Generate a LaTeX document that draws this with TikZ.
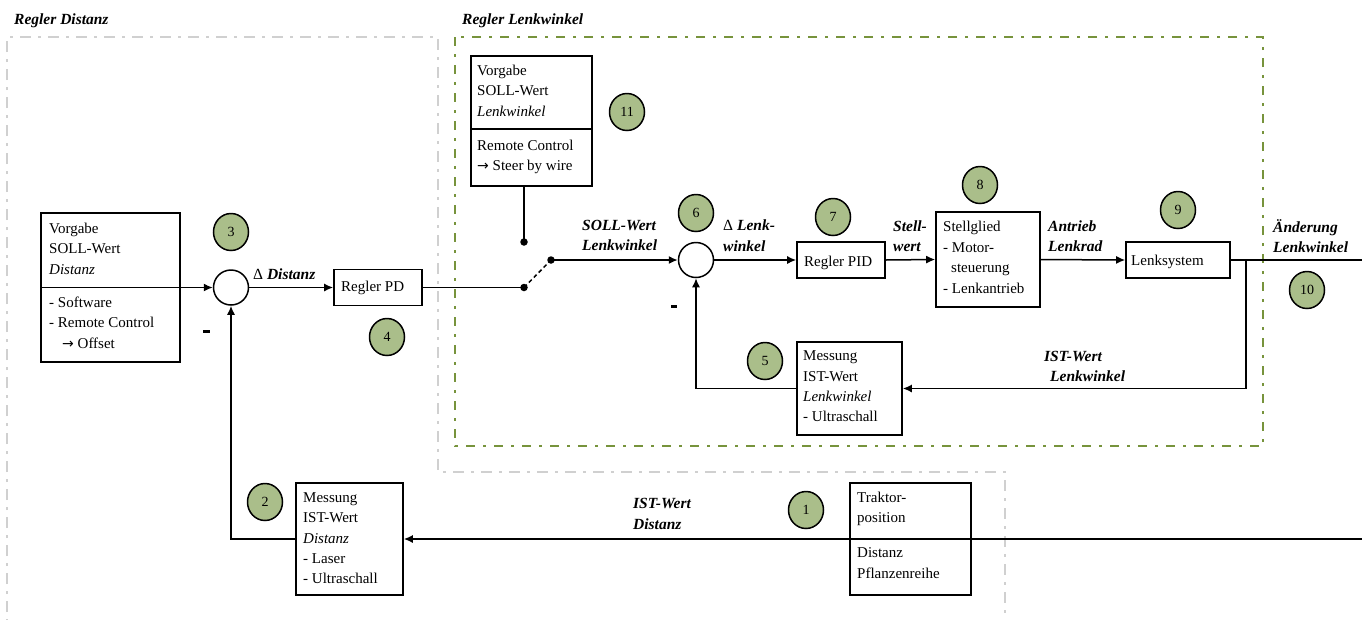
\documentclass[tikz,border=0pt]{standalone}
\usepackage{fontspec}
\setmainfont{Liberation Serif}
\newfontfamily\arrfont{DejaVu Sans}
\usetikzlibrary{arrows.meta,shapes.geometric,calc}
\definecolor{numfill}{RGB}{170,190,138}
\definecolor{grn}{RGB}{119,147,60}
\definecolor{gry}{RGB}{208,208,208}
\newcommand\fsbody{\fontsize{15}{20.4}\selectfont}
\newcommand\fslab{\fontsize{15.5}{20.4}\selectfont\bfseries\itshape}
\newcommand\fsnum{\fontsize{14}{16}\selectfont}
\newcommand\rarr{{\arrfont\fontsize{14}{16}\selectfont →}}
\begin{document}
\begin{tikzpicture}[x=1pt,y=-1pt,
 bx/.style={draw, line width=1.6pt, inner sep=0pt},
 tb/.style={anchor=north west, inner sep=0pt, align=left, font=\fsbody, yshift=14.28pt, execute at begin node=\strut},
 lb/.style={anchor=north west, inner sep=0pt, align=left, font=\fslab, yshift=14.28pt, execute at begin node=\strut},
 numnode/.style={ellipse, draw, line width=1.5pt, fill=numfill, minimum width=35pt, minimum height=37pt, inner sep=0pt, font=\fsnum},
 sumnode/.style={circle, draw, line width=1.5pt, fill=white, minimum size=35pt, inner sep=0pt},
 dotnode/.style={circle, fill=black, minimum size=7.5pt, inner sep=0pt},
 conn/.style={line width=1.5pt},
 arr/.style={conn, -{Latex[length=9pt,width=8pt]}},
 frameg/.style={draw=grn, line width=2.6pt, dash pattern=on 9pt off 8pt on 3pt off 8pt},
 framegr/.style={draw=gry, line width=2.6pt, dash pattern=on 11pt off 7pt on 3pt off 7pt},
 minusnode/.style={fill=black, inner sep=0pt, minimum width=6.5pt, minimum height=3pt},
]
\useasboundingbox (0,0) rectangle (1362,619);
\clip (0,0) rectangle (1362,619);

% frames
\draw[framegr] (7,640) -- (7,37) -- (438,37) -- (438,472) -- (1005,472) -- (1005,640);
\draw[frameg] (455,37) rectangle (1263,446);

% titles
\node[lb] (tD) at (14,24.5) {Regler Distanz};
\node[lb] (tL) at (462,24.5) {Regler Lenkwinkel};

% boxes
\node[bx, minimum width=139pt, minimum height=149pt] (vD) at (110.5,287.5) {};
\draw[line width=1.6pt] (vD.west) -- (vD.east);
\node[tb] (vDa) at (49,237) {Vorgabe\\SOLL-Wert\\\textit{Distanz}};
\node[tb] (vDb) at (49,311) {- Software\\- Remote Control\\\hspace*{13pt}\rarr\ Offset};

\node[bx, minimum width=121pt, minimum height=130pt] (rem) at (531.5,121) {};
\draw[line width=1.6pt] ($(rem.north west)+(0,74)$) -- ($(rem.north east)+(0,74)$);
\node[tb] (remA) at (477,79) {Vorgabe\\SOLL-Wert\\\textit{Lenkwinkel}};
\node[tb] (remB) at (477,154) {Remote Control\\\rarr\ Steer by wire};

\node[bx, minimum width=88pt, minimum height=36pt] (pd) at (378,287.5) {};
\node[tb] (pdT) at (341,291.5) {Regler PD};

\node[bx, minimum width=88pt, minimum height=36pt] (pid) at (841,260) {};
\node[tb] (pidT) at (804,266) {Regler PID};

\node[bx, minimum width=104pt, minimum height=95pt] (stg) at (988,259.5) {};
\node[tb] (stgT) at (943,235.5) {Stellglied\\- Motor-\\\hspace*{8pt}steuerung\\- Lenkantrieb};

\node[bx, minimum width=104pt, minimum height=36pt] (ls) at (1178,260) {};
\node[tb] (lsT) at (1131,265) {Lenksystem};

\node[bx, minimum width=105pt, minimum height=93pt] (mL) at (849.5,388.5) {};
\node[tb] (mLT) at (803,365) {Messung\\IST-Wert\\\textit{Lenkwinkel}\\- Ultraschall};

\node[bx, minimum width=107pt, minimum height=112pt] (mD) at (349.5,539) {};
\node[tb] (mDT) at (303,506.5) {Messung\\IST-Wert\\\textit{Distanz}\\- Laser\\- Ultraschall};

\node[bx, minimum width=121pt, minimum height=112pt] (tr) at (910.5,539) {};
\node[tb] (trA) at (857,506) {Traktor-\\position};
\node[tb] (trB) at (857,562) {Distanz\\Pflanzenreihe};

% summing points and switch
\node[sumnode] (s1) at (231,287.5) {};
\node[sumnode] (s2) at (696,260) {};
\node[dotnode] (dA) at (524,242) {};
\node[dotnode] (dB) at (524,287.5) {};
\node[dotnode] (dC) at (551,260) {};
\coordinate (eR1) at (1362,260);
\coordinate (eR2) at (1362,539);
\coordinate (jn) at (1246,260);

% connectors
\draw[arr] (vD.east) -- (s1.west);
\draw[arr] (s1.east) -- (pd.west);
\draw[conn] (pd.east) -- (dB.center);
\draw[conn, dash pattern=on 4pt off 3pt] (dB.center) -- (dC.center);
\draw[arr] (dC.center) -- (s2.west);
\draw[conn] (rem.south -| dA) -- (dA.center);
\draw[arr] (s2.east) -- (pid.west);
\draw[arr] (pid.east) -- (stg.west);
\draw[arr] (stg.east) -- (ls.west);
\draw[conn] (ls.east) -- (eR1);
\draw[arr] (jn) |- (mL.east);
\draw[arr] (mL.west) -| (s2.south);
\draw[arr] (eR2) -- (mD.east);
\draw[arr] (mD.west) -| (s1.south);

% labels
\node[lb] (lDD) at (253,279) {{\mdseries\upshape Δ} Distanz};
\node[lb] (lSW) at (582,234) {SOLL-Wert\\Lenkwinkel};
\node[lb] (lDL) at (723,234) {{\mdseries\upshape Δ} Lenk-\\winkel};
\node[lb] (lSt) at (893,234.5) {Stell-\\wert};
\node[lb] (lAL) at (1048,234.5) {Antrieb\\Lenkrad};
\node[lb] (lAe) at (1273,233.5) {Änderung\\Lenkwinkel};
\node[lb] (lIL) at (1044,365) {IST-Wert\\\hspace*{6pt}Lenkwinkel};
\node[lb] (lID) at (633,512.5) {IST-Wert\\Distanz};

\node[minusnode] (m1) at (206.5,331.5) {};
\node[minusnode] (m2) at (674,306) {};

% numbers
\node[numnode] (n1) at (806,510) {1};
\node[numnode] (n2) at (265,502) {2};
\node[numnode] (n3) at (231,232) {3};
\node[numnode] (n4) at (387,337) {4};
\node[numnode] (n5) at (765,361) {5};
\node[numnode] (n6) at (696,213) {6};
\node[numnode] (n7) at (833,217) {7};
\node[numnode] (n8) at (980,185) {8};
\node[numnode] (n9) at (1178,210) {9};
\node[numnode] (n10) at (1307,290) {10};
\node[numnode] (n11) at (627,112) {11};
\end{tikzpicture}
\end{document}
